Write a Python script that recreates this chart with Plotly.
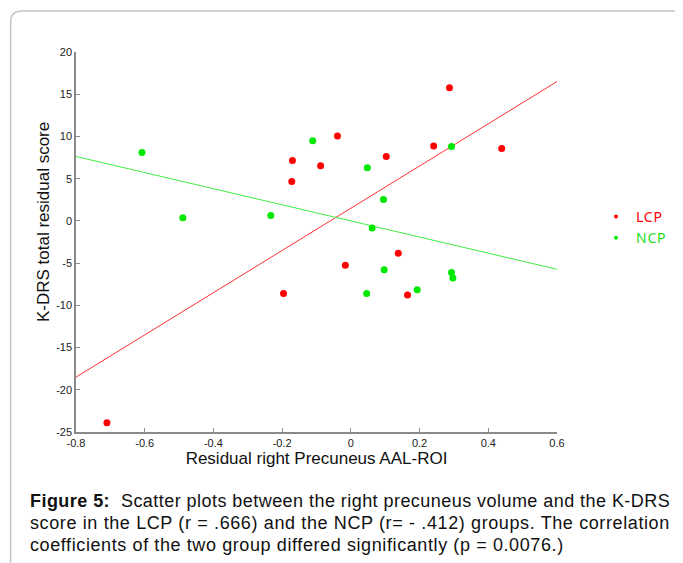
import plotly.graph_objects as go

# ---- data ----
lcp_x = [-0.170, -0.172, 0.287, -0.039, -0.088, 0.241, 0.439, 0.103, -0.196, -0.710, 0.138, -0.016, 0.165]
lcp_y = [7.16, 4.67, 15.77, 10.04, 6.52, 8.86, 8.58, 7.63, -8.61, -23.9, -3.83, -5.25, -8.77]
ncp_x = [-0.608, -0.489, -0.233, -0.111, 0.293, 0.048, 0.095, 0.062, 0.097, 0.293, 0.297, 0.046, 0.193]
ncp_y = [8.11, 0.36, 0.64, 9.49, 8.82, 6.29, 2.54, -0.83, -5.80, -6.12, -6.75, -8.61, -8.14]
fit_x = [-0.8, 0.6]
lcp_fit_y = [-18.5, 16.5]
ncp_fit_y = [7.63, -5.73]
x_ticks = [-0.8, -0.6, -0.4, -0.2, 0, 0.2, 0.4, 0.6]
x_ticklabels = ["-0.8", "-0.6", "-0.4", "-0.2", "0", "0.2", "0.4", "0.6"]
y_ticks = [-25, -20, -15, -10, -5, 0, 5, 10, 15, 20]
y_ticklabels = ["-25", "-20", "-15", "-10", "-5", "0", "5", "10", "15", "20"]

RED = "#ff0000"
GREEN = "#00e800"
FONT = "Liberation Sans, Arial, sans-serif"

OFF = 8  # page body margin
W, H = 683 - OFF, 563 - OFF
L, R, T, B = 76 - OFF, 558 - OFF, 52 - OFF, 432 - OFF  # plot area in figure pixels


def px(xp):  # reference page pixel -> paper
    return (xp - OFF - L) / (R - L)


def py(yp):
    return (B - (yp - OFF)) / (B - T)


fig = go.Figure()
fig.add_trace(go.Scatter(x=fit_x, y=lcp_fit_y, mode="lines",
                         line=dict(color="#ff3030", width=1), showlegend=False, hoverinfo="skip"))
fig.add_trace(go.Scatter(x=fit_x, y=ncp_fit_y, mode="lines",
                         line=dict(color="#40ee40", width=1), showlegend=False, hoverinfo="skip"))
fig.add_trace(go.Scatter(x=lcp_x, y=lcp_y, mode="markers", name="LCP",
                         marker=dict(color=RED, size=7), showlegend=False))
fig.add_trace(go.Scatter(x=ncp_x, y=ncp_y, mode="markers", name="NCP",
                         marker=dict(color=GREEN, size=7), showlegend=False))
# legend entries
fig.add_trace(go.Scatter(x=[None], y=[None], mode="markers",
                         name="<span style='color:#ff0000;letter-spacing:0.8px'>LCP</span>",
                         marker=dict(color=RED, size=4)))
fig.add_trace(go.Scatter(x=[None], y=[None], mode="markers",
                         name="<span style='color:#22dd22;letter-spacing:0.8px'>NCP</span>",
                         marker=dict(color=GREEN, size=4)))

axis_common = dict(showgrid=False, zeroline=False, showline=True, linecolor="#8a8a8a",
                   linewidth=1.5, ticks="inside", ticklen=4, tickcolor="#8a8a8a", tickwidth=1,
                   tickfont=dict(family=FONT, size=11, color="#222222"), mirror=False)

fig.update_xaxes(range=[-0.8, 0.6], tickvals=x_ticks, ticktext=x_ticklabels,
                 title=dict(text="Residual right Precuneus AAL-ROI",
                            font=dict(family=FONT, size=17, color="#111111"), standoff=4),
                 **axis_common)
fig.update_yaxes(range=[-25, 20], tickvals=y_ticks, ticktext=y_ticklabels, **axis_common)

anns = []
anns.append(dict(text="K-DRS total residual score", textangle=-90, xref="paper", yref="paper",
                 x=px(44), y=py(222), xanchor="center", yanchor="middle", showarrow=False,
                 font=dict(family=FONT, size=17, color="#111111")))
cap_lines = [
    ("<span style='letter-spacing:0.45px'><b>Figure 5:</b>&nbsp; Scatter plots between the right precuneus volume and the K-DRS</span>", 501),
    ("<span style='letter-spacing:0.6px;word-spacing:0.1px'>score in the LCP (r = .666) and the NCP (r= - .412) groups. The correlation</span>", 523),
    ("<span style='letter-spacing:0.6px'>coefficients of the two group differed significantly (p = 0.0076.)</span>", 545),
]
for txt, yy in cap_lines:
    anns.append(dict(text=txt, xref="paper", yref="paper", x=px(28), y=py(yy),
                     xanchor="left", yanchor="middle", showarrow=False, align="left",
                     font=dict(family=FONT, size=18, color="#111111")))

frame_path = ("M {x0},{yb} L {x0},{y1} Q {x0},{y0} {x2},{y0} L {xr},{y0}").format(
    x0=px(10.5), yb=py(620), y1=py(22), y0=py(11), x2=px(21.5), xr=px(720))

fig.update_layout(
    width=W, height=H, autosize=False,
    margin=dict(l=L, r=W - R, t=T, b=H - B, pad=0),
    paper_bgcolor="white", plot_bgcolor="white",
    font=dict(family=FONT, color="#111111"),
    annotations=anns,
    shapes=[dict(type="path", path=frame_path, xref="paper", yref="paper",
                 line=dict(color="#c4c4c4", width=1.5))],
    legend=dict(x=px(596), y=py(201), xanchor="left", yanchor="top",
                font=dict(family="Noto Sans, sans-serif", size=14),
                bgcolor="rgba(0,0,0,0)", borderwidth=0, tracegroupgap=0),
)

fig.write_html("out.html")
